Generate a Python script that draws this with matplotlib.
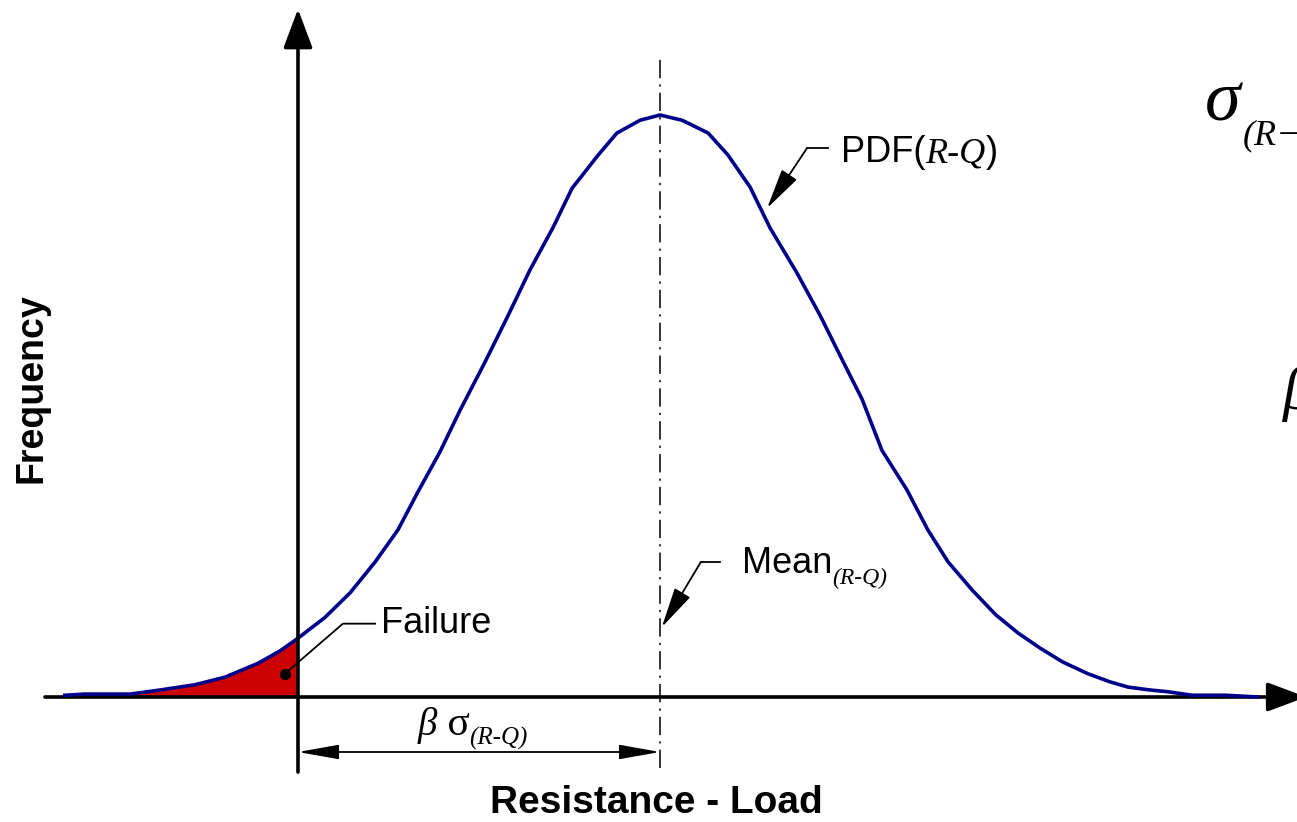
import numpy as np
import matplotlib.pyplot as plt

plt.rcParams['font.family'] = ['Liberation Sans', 'DejaVu Sans']

# PDF(R-Q) curve (x: resistance - load, y: relative frequency)
x_vals = [-6.44, -5.88, -4.64, -3.81, -2.85, -2.02, -1.10, -0.50, 0.0, 0.75, 1.44, 2.13,
          2.76, 3.31, 3.92, 4.48, 5.17, 5.80, 6.41, 7.04, 7.57, 8.29, 8.81, 9.45, 10.0,
          10.61, 11.33, 11.88, 12.49, 13.04, 13.78, 14.42, 15.06, 15.58, 16.13, 16.82,
          17.40, 17.96, 18.62, 19.28, 19.89, 20.50, 21.13, 21.82, 22.43, 22.93, 23.54,
          24.03, 24.70, 25.61, 26.52]
freq = [0.003, 0.005, 0.005, 0.012, 0.021, 0.034, 0.058, 0.079, 0.101, 0.137, 0.179, 0.232,
        0.287, 0.352, 0.421, 0.493, 0.576, 0.655, 0.734, 0.806, 0.874, 0.931, 0.969, 0.991, 1.0,
        0.991, 0.969, 0.931, 0.876, 0.806, 0.729, 0.656, 0.576, 0.512, 0.424, 0.356,
        0.287, 0.232, 0.184, 0.141, 0.110, 0.084, 0.060, 0.040, 0.026, 0.017, 0.012,
        0.009, 0.003, 0.003, 0.0]
mean_rq = 10.0

x_vals = np.array(x_vals)
freq = np.array(freq)

fig = plt.figure(figsize=(12.97, 8.22), dpi=100)
ax = fig.add_axes([0, 0, 1, 1])
ax.set_xlim(-8.232, 27.597)
ax.set_ylim(-0.2148, 1.1976)
ax.set_axis_off()

# failure region
m = x_vals <= 0
ax.fill_between(x_vals[m], 0, freq[m], color='#cc0000', lw=0, zorder=1)

# curve
ax.plot(x_vals, freq, color='#00008b', lw=2.6, zorder=3)

# axes with arrows
axis_arrow = dict(arrowstyle='-|>,head_length=1.2,head_width=0.45', lw=2.6, color='black',
                  mutation_scale=20, shrinkA=0, shrinkB=0)
ax.annotate('', xy=(27.85, 0), xytext=(-6.99, 0), arrowprops=axis_arrow, zorder=2,
            annotation_clip=False)
ax.annotate('', xy=(0, 1.182), xytext=(0, -0.129), arrowprops=axis_arrow, zorder=4,
            annotation_clip=False)

# mean line
ax.plot([mean_rq, mean_rq], [-0.122, 1.103], color='black', lw=1.1,
        ls=(0, (12, 4, 1.5, 4)), zorder=2)

# beta sigma dimension
ax.annotate('', xy=(mean_rq, -0.0945), xytext=(0, -0.0945),
            arrowprops=dict(arrowstyle='<|-|>,head_length=1.8,head_width=0.32', lw=1.3,
                            color='black', mutation_scale=14, shrinkA=0, shrinkB=0))
tb = ax.text(3.3, -0.066, 'β', fontsize=28, family='Liberation Serif',
             style='italic', va='baseline', ha='left')
ts_ = ax.annotate(' σ', xy=(1, 0), xycoords=tb, fontsize=30, family='Liberation Serif',
                  va='bottom', ha='left')
ax.annotate('(R-Q)', xy=(1, 0), xycoords=ts_, xytext=(0, -4), textcoords='offset points',
            fontsize=18, family='Liberation Serif', style='italic', va='bottom', ha='left')

# failure label
ax.plot([-0.36], [0.040], 'o', color='black', ms=7, zorder=5)
ax.plot([-0.36, 1.24, 2.13], [0.040, 0.126, 0.126], color='black', lw=1.3, zorder=5)
ax.text(2.3, 0.126, 'Failure', fontsize=26, va='center', ha='left')

# mean label
leader = dict(arrowstyle='-|>,head_length=1.8,head_width=0.4', lw=1.3, color='black',
              mutation_scale=14, shrinkA=0, shrinkB=0)
ax.plot([11.13, 11.66], [0.232, 0.232], color='black', lw=1.3)
ax.annotate('', xy=(10.05, 0.120), xytext=(11.13, 0.232), arrowprops=leader)
tm = ax.text(12.27, 0.230, 'Mean', fontsize=26, va='center', ha='left')
ax.annotate('(R-Q)', xy=(1, 0), xycoords=tm, xytext=(0, -6), textcoords='offset points',
            fontsize=17, family='Liberation Serif', style='italic', va='bottom', ha='left')

# PDF label
ax.plot([14.06, 14.64], [0.943, 0.943], color='black', lw=1.3)
ax.annotate('', xy=(12.96, 0.840), xytext=(14.06, 0.943), arrowprops=leader)
tp = ax.text(15.0, 0.935, 'PDF(', fontsize=26, va='center', ha='left')
tp2 = ax.annotate('R-Q', xy=(1, 0), xycoords=tp, fontsize=26, family='Liberation Serif',
                  style='italic', va='bottom', ha='left')
ax.annotate(')', xy=(1, 0), xycoords=tp2, fontsize=26, va='bottom', ha='left')

# cut-off formula at the right edge
ts = ax.text(25.05, 0.99, 'σ', fontsize=52, family='Liberation Serif', style='italic',
             va='baseline', ha='left')
ax.annotate('(R−', xy=(1, 0), xycoords=ts, xytext=(2, -12), textcoords='offset points',
            fontsize=26, family='Liberation Serif', style='italic', va='bottom', ha='left')
ax.text(27.2, 0.495, 'β', fontsize=44, family='Liberation Serif', style='italic',
        va='baseline', ha='left')

# axis titles
ax.text(-7.37, 0.53, 'Frequency', fontsize=27, fontweight='bold', rotation=90,
        va='center', ha='center')
ax.text(9.9, -0.182, 'Resistance - Load', fontsize=28, fontweight='bold',
        va='center', ha='center')

fig.savefig('out.png', dpi=100)
